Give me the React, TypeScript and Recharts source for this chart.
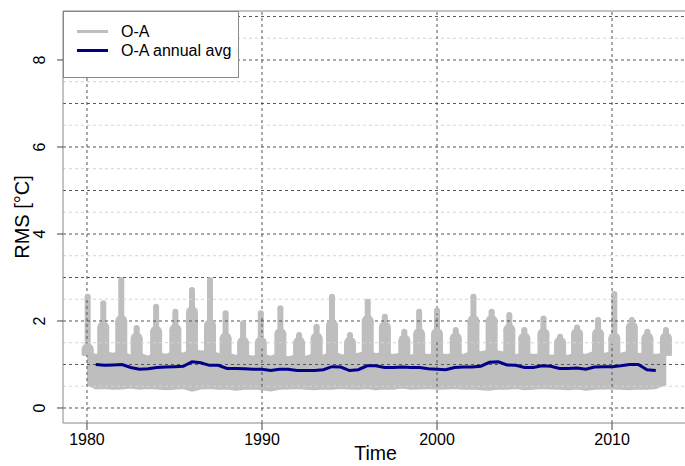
import React from 'react'
import {
  ComposedChart, XAxis, YAxis, Area, Line, Scatter, ErrorBar, ReferenceLine,
} from 'recharts'

// grey cloud: dense band (half-year steps)
const bandYears = [
  1980, 1980.5, 1981, 1981.5, 1982, 1982.5, 1983, 1983.5, 1984, 1984.5,
  1985, 1985.5, 1986, 1986.5, 1987, 1987.5, 1988, 1988.5, 1989, 1989.5,
  1990, 1990.5, 1991, 1991.5, 1992, 1992.5, 1993, 1993.5, 1994, 1994.5,
  1995, 1995.5, 1996, 1996.5, 1997, 1997.5, 1998, 1998.5, 1999, 1999.5,
  2000, 2000.5, 2001, 2001.5, 2002, 2002.5, 2003, 2003.5, 2004, 2004.5,
  2005, 2005.5, 2006, 2006.5, 2007, 2007.5, 2008, 2008.5, 2009, 2009.5,
  2010, 2010.5, 2011, 2011.5, 2012, 2012.5, 2013.1,
]
const bandHigh = [
  1.30, 1.22, 1.28, 1.25, 1.30, 1.20, 1.25, 1.18, 1.28, 1.22,
  1.30, 1.25, 1.35, 1.30, 1.32, 1.24, 1.25, 1.20, 1.22, 1.18,
  1.24, 1.18, 1.25, 1.16, 1.22, 1.18, 1.24, 1.20, 1.30, 1.22,
  1.20, 1.25, 1.30, 1.24, 1.26, 1.22, 1.25, 1.20, 1.26, 1.22,
  1.25, 1.22, 1.24, 1.22, 1.30, 1.28, 1.32, 1.30, 1.26, 1.22,
  1.25, 1.22, 1.24, 1.20, 1.22, 1.20, 1.26, 1.22, 1.30, 1.24,
  1.28, 1.25, 1.30, 1.24, 1.26, 1.22, 1.25,
]
const bandLow = [
  0.55, 0.45, 0.46, 0.44, 0.45, 0.47, 0.44, 0.46, 0.45, 0.43,
  0.44, 0.46, 0.40, 0.45, 0.46, 0.44, 0.45, 0.42, 0.44, 0.45,
  0.43, 0.40, 0.44, 0.45, 0.46, 0.44, 0.43, 0.45, 0.44, 0.46,
  0.45, 0.44, 0.46, 0.43, 0.45, 0.44, 0.47, 0.44, 0.45, 0.46,
  0.44, 0.45, 0.46, 0.44, 0.45, 0.43, 0.42, 0.45, 0.44, 0.46,
  0.43, 0.44, 0.46, 0.45, 0.44, 0.43, 0.45, 0.42, 0.44, 0.45,
  0.45, 0.44, 0.43, 0.45, 0.44, 0.46, 0.55,
]

// yearly winter peaks: broad tower + narrow spike
const spikeYears = [
  1980.04, 1980.93, 1981.96, 1982.84, 1983.95, 1985.05, 1986.0, 1987.03, 1987.92, 1988.92,
  1989.93, 1991.05, 1992.12, 1993.12, 1994.0, 1995.03, 1996.04, 1997.02, 1998.13, 1998.98,
  2000.0, 2001.07, 2002.08, 2003.12, 2004.13, 2004.99, 2006.08, 2007.03, 2008.0, 2009.2,
  2010.13, 2011.13, 2012.02, 2013.08,
]
const spikePeaks = [
  2.56, 2.41, 2.94, 1.84, 2.33, 2.21, 2.71, 2.94, 2.18, 1.95,
  2.18, 2.29, 1.68, 1.87, 2.56, 1.68, 2.44, 2.10, 1.75, 2.21,
  2.24, 1.79, 2.56, 2.21, 2.14, 1.79, 2.06, 1.64, 1.85, 2.02,
  2.62, 2.02, 1.75, 1.79,
]
const towerTops = [
  1.35, 1.85, 2.0, 1.6, 1.75, 1.8, 2.2, 1.9, 1.6, 1.5,
  1.5, 1.7, 1.5, 1.6, 1.9, 1.5, 2.0, 1.85, 1.55, 1.7,
  1.7, 1.6, 2.0, 2.0, 1.8, 1.6, 1.7, 1.5, 1.7, 1.7,
  1.6, 1.85, 1.6, 1.6,
]
const towerBase = 1.2

// annual running average
const avgYears = [
  1980.5, 1981, 1981.5, 1982, 1982.5, 1983, 1983.5, 1984, 1984.5, 1985,
  1985.5, 1986, 1986.5, 1987, 1987.5, 1988, 1988.5, 1989, 1989.5, 1990,
  1990.5, 1991, 1991.5, 1992, 1992.5, 1993, 1993.5, 1994, 1994.5, 1995,
  1995.5, 1996, 1996.5, 1997, 1997.5, 1998, 1998.5, 1999, 1999.5, 2000,
  2000.5, 2001, 2001.5, 2002, 2002.5, 2003, 2003.5, 2004, 2004.5, 2005,
  2005.5, 2006, 2006.5, 2007, 2007.5, 2008, 2008.5, 2009, 2009.5, 2010,
  2010.5, 2011, 2011.5, 2012, 2012.5,
]
const avgValues = [
  1.00, 0.98, 0.99, 1.00, 0.93, 0.89, 0.90, 0.93, 0.94, 0.95,
  0.96, 1.06, 1.04, 0.98, 0.98, 0.91, 0.91, 0.90, 0.89, 0.89,
  0.86, 0.89, 0.89, 0.86, 0.86, 0.86, 0.88, 0.95, 0.94, 0.86,
  0.88, 0.97, 0.97, 0.93, 0.93, 0.94, 0.93, 0.93, 0.90, 0.89,
  0.88, 0.93, 0.94, 0.94, 0.96, 1.05, 1.06, 0.99, 0.98, 0.93,
  0.93, 0.97, 0.96, 0.91, 0.91, 0.92, 0.89, 0.94, 0.95, 0.95,
  0.97, 1.00, 1.00, 0.88, 0.86,
]

const xTicks = [1980, 1990, 2000, 2010]
const yTicks = [0, 2, 4, 6, 8]
const majorY = [0, 1, 2, 3, 4, 5, 6, 7, 8, 9]
const minorY = [0.5, 1.5, 2.5, 3.5, 4.5, 5.5, 6.5, 7.5, 8.5]

const X_DOMAIN = [1978.63, 2014.34]
const Y_DOMAIN = [-0.345, 9.126]

const band = bandYears.map((x, i) => ({ x, range: [bandLow[i], bandHigh[i]] }))
const towers = spikeYears.map((x, i) => ({ x, y: towerTops[i], err: [towerTops[i] - towerBase, 0] }))
const spikes = spikeYears.map((x, i) => ({ x, y: spikePeaks[i], err: [spikePeaks[i] - towerBase, 0] }))
const avg = avgYears.map((x, i) => ({ x, avg: avgValues[i] }))

const FONT = '"Liberation Sans", Arial, sans-serif'
const GREY = '#BEBEBE'
const BLUE = '#00008B'
const BOX = '#888888'

const YTick = (props: any) => {
  const { x, y, payload } = props
  const tx = x - 10
  return (
    <text x={tx} y={y} transform={`rotate(-90, ${tx}, ${y})`} textAnchor="middle"
      fontSize={16} fontFamily={FONT} fill="#000">{payload.value}</text>
  )
}

const XTick = (props: any) => {
  const { x, y, payload } = props
  return (
    <text x={x} y={y + 13} textAnchor="middle" fontSize={16} fontFamily={FONT} fill="#000">
      {payload.value}
    </text>
  )
}

export default function App() {
  return (
    <div style={{ position: 'absolute', left: 0, top: 0, width: 685, height: 466, overflow: 'hidden', background: '#fff' }}>
      <ComposedChart width={700} height={466} margin={{ top: 11, right: 12, bottom: 0, left: 0 }}>
        <XAxis dataKey="x" type="number" domain={X_DOMAIN} ticks={xTicks} allowDataOverflow
          height={43} tickSize={7} tick={<XTick />} stroke={BOX}
          tickLine={{ stroke: '#444' }} axisLine={{ stroke: BOX }}
          label={(p: any) => {
            const vb = p.viewBox
            return (
              <text x={vb.x + vb.width / 2} y={vb.y + 37} textAnchor="middle"
                fontSize={19.5} fontFamily={FONT} fill="#000">Time</text>
            )
          }} />
        <YAxis type="number" domain={Y_DOMAIN} ticks={yTicks} allowDataOverflow width={63}
          tickSize={6} tick={<YTick />} tickLine={{ stroke: '#444' }} axisLine={{ stroke: BOX }}
          label={(p: any) => {
            const vb = p.viewBox
            const cx = vb.x + 29
            const cy = vb.y + vb.height / 2
            return (
              <text x={cx} y={cy} transform={`rotate(-90, ${cx}, ${cy})`} textAnchor="middle"
                fontSize={20} fontFamily={FONT} fill="#000">RMS [°C]</text>
            )
          }} />

        <Area data={band} dataKey="range" type="linear" stroke={GREY} strokeWidth={2} fill={GREY} fillOpacity={1}
          isAnimationActive={false} />
        <Scatter data={towers} dataKey="y" isAnimationActive={false}
          shape={(p: any) => <circle cx={p.cx} cy={p.cy} r={6} fill={GREY} />}>
          <ErrorBar dataKey="err" direction="y" width={0} stroke={GREY} strokeWidth={12} />
        </Scatter>
        <Scatter data={spikes} dataKey="y" isAnimationActive={false}
          shape={(p: any) => <circle cx={p.cx} cy={p.cy} r={3} fill={GREY} />}>
          <ErrorBar dataKey="err" direction="y" width={0} stroke={GREY} strokeWidth={6} />
        </Scatter>

        {minorY.map((v) => (
          <ReferenceLine key={'n' + v} y={v} stroke="#D3D3D3" strokeDasharray="3 3" />
        ))}
        {majorY.map((v) => (
          <ReferenceLine key={'m' + v} y={v} stroke="#555" strokeDasharray="3 3" />
        ))}
        {xTicks.map((v) => (
          <ReferenceLine key={'x' + v} x={v} stroke="#555" strokeDasharray="3 3" />
        ))}
        <ReferenceLine y={Y_DOMAIN[1]} stroke={BOX} />

        <Line data={avg} dataKey="avg" type="linear" stroke={BLUE} strokeWidth={3} dot={false}
          isAnimationActive={false} />
      </ComposedChart>

      <div style={{
        position: 'absolute', left: 63, top: 11, width: 174, height: 65, background: '#fff',
        border: `1px solid ${BOX}`, fontFamily: FONT, fontSize: 16, color: '#000',
      }}>
        {[{ name: 'O-A', color: GREY }, { name: 'O-A annual avg', color: BLUE }].map((it, i) => (
          <div key={it.name} style={{ position: 'absolute', left: 13, top: 10 + i * 19, display: 'flex', alignItems: 'center', height: 19 }}>
            <span style={{ display: 'inline-block', width: 31, height: 3, background: it.color, marginRight: 13 }} />
            <span style={{ lineHeight: '19px' }}>{it.name}</span>
          </div>
        ))}
      </div>
    </div>
  )
}
